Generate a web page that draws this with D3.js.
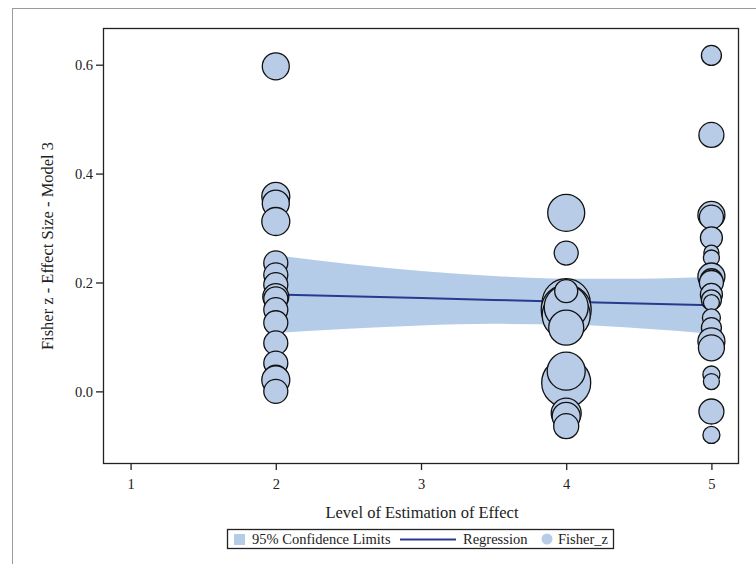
<!DOCTYPE html>
<html>
<head>
<meta charset="utf-8">
<script src="https://cdn.jsdelivr.net/npm/d3@7"></script>
<style>
  html, body { margin: 0; padding: 0; background: #fff; }
  svg { display: block; }
  svg text { font-family: "Liberation Serif", "DejaVu Serif", serif !important; }
</style>
</head>
<body>
<svg id="chart" width="756" height="564"></svg>
<script>
// ---- data ----
const levelX = [2,2,2,2,2,2,2,2,2,2,2,2,2,2,2,2,
                4,4,4,4,4,4,4,4,4,4,4,4,4,
                5,5,5,5,5,5,5,5,5,5,5,5,5,5,5,5,5,5,5,5,5,5];
const fisherZ = [0.597,0.358,0.345,0.312,0.236,0.214,0.196,0.174,0.170,0.150,0.126,0.089,0.052,0.025,0.021,0.000,
                 0.328,0.254,0.163,0.150,0.140,0.155,0.184,0.117,0.016,0.037,-0.040,-0.046,-0.064,
                 0.617,0.471,0.324,0.320,0.282,0.255,0.245,0.215,0.211,0.205,0.200,0.178,0.168,0.163,0.135,0.117,0.092,0.080,0.031,0.018,-0.037,-0.080];
const bubbleWeight = [13.5,14,13.5,14,12,12,12,13,12,12,12,12,12,12.5,14,12,
                      18.5,12,24,25,24,22,11.5,17.5,24.5,19,15,14,12.5,
                      10,12.5,13.5,12,11,7.5,8,10,13.5,11,12,11,10,8,9,10,13.5,13,8.5,8,12.5,8.5];
const fitX     = [2, 2.5, 3, 3.5, 4, 4.5, 5];
const fitY     = [0.178, 0.1747, 0.1713, 0.168, 0.1646, 0.1613, 0.158];
const ciLower  = [0.107, 0.115, 0.121, 0.124, 0.123, 0.116, 0.106];
const ciUpper  = [0.250, 0.234, 0.221, 0.212, 0.207, 0.207, 0.210];
const xTicks = [1, 2, 3, 4, 5];
const yTicks = [0.0, 0.2, 0.4, 0.6];
const xTitle = "Level of Estimation of Effect";
const yTitle = "Fisher z - Effect Size - Model 3";
const legendLabels = ["95% Confidence Limits", "Regression", "Fisher_z"];

// ---- layout ----
const L = 103, R = 739, T = 28, B = 464;
const fillBlue = "#b8cce8", bandBlue = "#b5cce9", lineBlue = "#263b8e";

const svg = d3.select("#chart");
const x = d3.scaleLinear().domain([0.81, 5.19]).range([L, R]);
const y = d3.scaleLinear().domain([-0.1334, 0.6674]).range([B, T]);
const r = d3.scaleLinear().domain([10, 20]).range([10, 20]);

// outer border
svg.append("rect").attr("x", 12.5).attr("y", 8.5).attr("width", 800).attr("height", 600)
  .attr("fill", "none").attr("stroke", "#9a9a9a").attr("stroke-width", 1);

svg.append("defs").append("clipPath").attr("id", "clip")
  .append("rect").attr("x", L).attr("y", T).attr("width", R - L).attr("height", B - T);

const plot = svg.append("g").attr("clip-path", "url(#clip)");

// CI band
const bandData = fitX.map((v, i) => ({x: v, lo: ciLower[i], hi: ciUpper[i], f: fitY[i]}));
plot.append("path").datum(bandData)
  .attr("fill", bandBlue)
  .attr("d", d3.area().x(d => x(d.x)).y0(d => y(d.lo)).y1(d => y(d.hi)).curve(d3.curveMonotoneX));

// regression line
plot.append("path").datum(bandData)
  .attr("fill", "none").attr("stroke", lineBlue).attr("stroke-width", 2)
  .attr("d", d3.line().x(d => x(d.x)).y(d => y(d.f)));

// bubbles
const pts = levelX.map((v, i) => ({x: v, y: fisherZ[i], w: bubbleWeight[i]}));
plot.selectAll("circle.b").data(pts).join("circle")
  .attr("class", "b")
  .attr("cx", d => x(d.x)).attr("cy", d => y(d.y)).attr("r", d => r(d.w))
  .attr("fill", fillBlue).attr("stroke", "#111").attr("stroke-width", 1.3);

// frame
svg.append("rect").attr("x", L + 0.5).attr("y", T + 0.5).attr("width", R - L - 1).attr("height", B - T - 1)
  .attr("fill", "none").attr("stroke", "#222").attr("stroke-width", 1.3);

// axes
const xAxis = svg.append("g").attr("transform", `translate(0,${B})`)
  .call(d3.axisBottom(x).tickValues(xTicks).tickFormat(d3.format("d")).tickSize(6).tickPadding(9));
const yAxis = svg.append("g").attr("transform", `translate(${L},0)`)
  .call(d3.axisLeft(y).tickValues(yTicks).tickFormat(d3.format(".1f")).tickSize(7).tickPadding(3));
[xAxis, yAxis].forEach(a => {
  a.attr("font-family", null).attr("font-size", null);
  a.select(".domain").remove();
  a.selectAll("line").attr("stroke", "#222").attr("stroke-width", 1.3);
  a.selectAll("text").style("font-size", "14.5px").attr("fill", "#222");
});

// axis titles
svg.append("text").attr("x", (L + R) / 2 + 1).attr("y", 518).attr("text-anchor", "middle")
  .style("font-size", "16.5px").attr("fill", "#222").text(xTitle);
svg.append("text").attr("transform", `translate(53,${(T + B) / 2}) rotate(-90)`)
  .attr("text-anchor", "middle").style("font-size", "16.5px").attr("fill", "#222").text(yTitle);

// legend
const lg = svg.append("g");
lg.append("rect").attr("x", 227.5).attr("y", 529.5).attr("width", 386).attr("height", 19)
  .attr("fill", "#fff").attr("stroke", "#222").attr("stroke-width", 1.3);
lg.append("rect").attr("x", 234).attr("y", 534).attr("width", 11).attr("height", 11).attr("fill", bandBlue);
lg.append("text").attr("x", 252).attr("y", 544).style("font-size", "14.5px").attr("fill", "#222").text(legendLabels[0]);
lg.append("line").attr("x1", 400).attr("x2", 456).attr("y1", 539.5).attr("y2", 539.5)
  .attr("stroke", lineBlue).attr("stroke-width", 2);
lg.append("text").attr("x", 463).attr("y", 544).style("font-size", "14.5px").attr("fill", "#222").text(legendLabels[1]);
lg.append("circle").attr("cx", 547).attr("cy", 539).attr("r", 5.5).attr("fill", fillBlue);
lg.append("text").attr("x", 558).attr("y", 544).style("font-size", "14.5px").attr("fill", "#222").text(legendLabels[2]);
</script>
</body>
</html>
